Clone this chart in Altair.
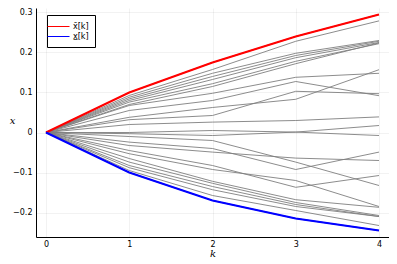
import altair as alt
import pandas as pd

k = [0, 1, 2, 3, 4]
upper = [0.0, 0.100, 0.175, 0.240, 0.295]
lower = [0.0, -0.100, -0.170, -0.215, -0.245]
legend_labels = ["x\u0304[k]", "x\u0332[k]"]
legend_colors = ["#ff0000", "#0000ff"]

gray_lines = [
    [0.0, 0.0925, 0.1575, 0.228, 0.279],
    [0.0, 0.088, 0.148, 0.198, 0.230],
    [0.0, 0.084, 0.140, 0.1925, 0.228],
    [0.0, 0.080, 0.1325, 0.187, 0.225],
    [0.0, 0.076, 0.122, 0.178, 0.222],
    [0.0, 0.070, 0.115, 0.172, 0.224],
    [0.0, 0.0675, 0.098, 0.138, 0.148],
    [0.0, 0.055, 0.080, 0.1275, 0.092],
    [0.0, 0.038, 0.0625, 0.083, 0.157],
    [0.0, 0.032, 0.0425, 0.103, 0.097],
    [0.0, 0.020, 0.026, 0.030, 0.039],
    [0.0, 0.000, 0.005, 0.001, 0.0175],
    [0.0, -0.003, -0.0075, 0.001, -0.0075],
    [0.0, -0.010, -0.020, -0.074, -0.1325],
    [0.0, -0.024, -0.040, -0.0925, -0.049],
    [0.0, -0.0325, -0.049, -0.064, -0.070],
    [0.0, -0.045, -0.0825, -0.137, -0.1075],
    [0.0, -0.053, -0.0925, -0.120, -0.185],
    [0.0, -0.065, -0.122, -0.168, -0.187],
    [0.0, -0.074, -0.127, -0.175, -0.2075],
    [0.0, -0.0825, -0.135, -0.180, -0.210],
    [0.0, -0.088, -0.143, -0.185, -0.210],
    [0.0, -0.095, -0.1575, -0.195, -0.2325],
]

rows = []
for i, line in enumerate(gray_lines):
    for kk, v in zip(k, line):
        rows.append({"k": kk, "x": v, "id": i})
gray_df = pd.DataFrame(rows)

bound_rows = []
for kk, v in zip(k, upper):
    bound_rows.append({"k": kk, "x": v, "series": legend_labels[0]})
for kk, v in zip(k, lower):
    bound_rows.append({"k": kk, "x": v, "series": legend_labels[1]})
bound_df = pd.DataFrame(bound_rows)

xscale = alt.Scale(domain=[-0.12, 4.12], nice=False, zero=False)
yscale = alt.Scale(domain=[-0.2612, 0.3112], nice=False, zero=False)

xaxis = alt.Axis(values=k, format="d", title="k", grid=True, ticks=False,
                 labelPadding=3, titleFont="DejaVu Serif", titleFontStyle="italic",
                 titleFontWeight="normal", titleFontSize=10, titleY=16,
                 titleBaseline="middle")
yaxis = alt.Axis(values=[-0.2, -0.1, 0, 0.1, 0.2, 0.3], format="~g", title="x",
                 grid=True, ticks=False, labelPadding=4, titleFont="DejaVu Serif",
                 titleFontStyle="italic", titleFontWeight="normal", titleFontSize=10,
                 titleAngle=0, titleX=-24, titleY=112, titleAlign="center",
                 titleBaseline="middle")

gray = alt.Chart(gray_df).mark_line(color="#7f7f7f", strokeWidth=0.9).encode(
    x=alt.X("k:Q", scale=xscale, axis=xaxis),
    y=alt.Y("x:Q", scale=yscale, axis=yaxis),
    detail="id:N",
)

thin = alt.Chart(bound_df).mark_line(strokeWidth=1).encode(
    x=alt.X("k:Q", scale=xscale),
    y=alt.Y("x:Q", scale=yscale),
    stroke=alt.Stroke("series:N",
                      scale=alt.Scale(domain=legend_labels, range=legend_colors),
                      legend=alt.Legend(title=None, orient="none", legendX=11, legendY=7,
                                        symbolType="M-2.2,0H2.2", symbolSize=100,
                                        symbolStrokeWidth=1, labelFontSize=8,
                                        labelFont="DejaVu Sans", strokeColor="black",
                                        fillColor="white", padding=6, rowPadding=0,
                                        labelOffset=9)),
)

thick = alt.Chart(bound_df).mark_line(strokeWidth=2).encode(
    x=alt.X("k:Q", scale=xscale),
    y=alt.Y("x:Q", scale=yscale),
    stroke=alt.Stroke("series:N",
                      scale=alt.Scale(domain=legend_labels, range=legend_colors),
                      legend=None),
)

chart = alt.layer(gray, thin, thick).resolve_scale(stroke="independent").properties(
    width=353, height=229,
    autosize=alt.AutoSizeParams(type="none"),
    padding={"left": 28, "top": 0, "right": 0, "bottom": 20},
).configure_axis(
    domainColor="black", domainWidth=1, gridColor="#000000", gridOpacity=0.1,
    gridWidth=0.5, labelFont="DejaVu Sans", labelFontSize=8, labelColor="black",
).configure_view(stroke=None)

chart.save("out.html", embed_options={"renderer": "svg", "actions": False})
